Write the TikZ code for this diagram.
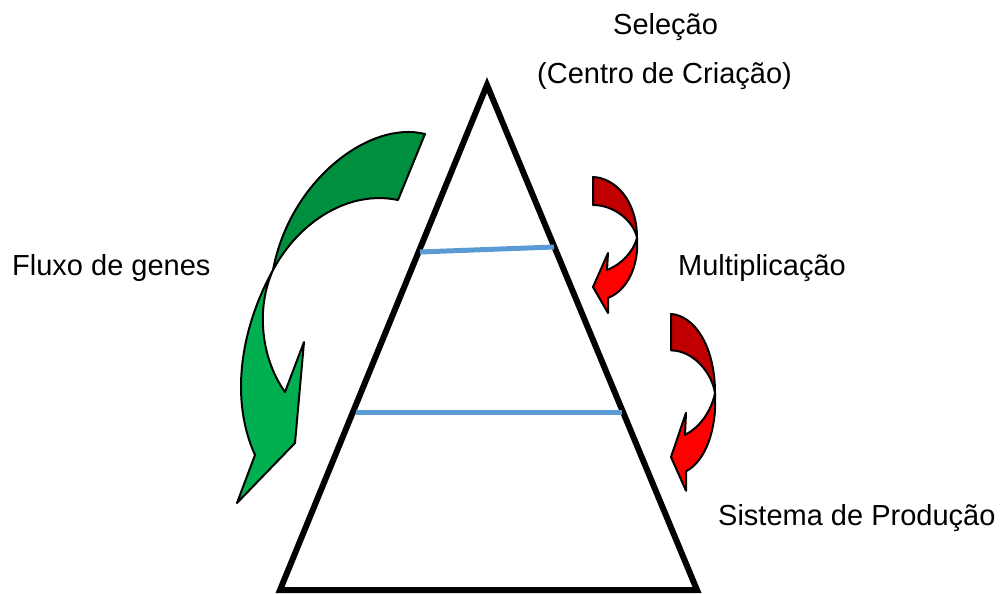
\documentclass[tikz,border=0pt]{standalone}
\usepackage{fontspec}
\setmainfont{Liberation Sans}
\usepackage{tikz}
\usetikzlibrary{positioning}

\definecolor{DarkGreen}{HTML}{008F3F}
\definecolor{LightGreen}{HTML}{00B050}
\definecolor{DarkRed}{HTML}{C00000}
\definecolor{LightRed}{HTML}{FF0000}
\definecolor{LevelBlue}{HTML}{5B9BD5}

\begin{document}
\begin{tikzpicture}[x=1pt, y=-1pt]
			\tikzstyle{Label}	= [anchor=base west, inner sep=0pt, font=\fontsize{29}{35}\selectfont]
			\tikzstyle{Pyramid}	= [line width=6pt, black, line join=miter]
			\tikzstyle{Level}	= [line width=5pt, LevelBlue]
			\tikzstyle{Shape}	= [draw=black, line width=2pt, line join=round]

			\useasboundingbox (0,0) rectangle (1001,594);

			% pyramid
			\coordinate (top) at (487,85);
			\coordinate (bl) at (280,590);
			\coordinate (br) at (697,590);
			\draw [Pyramid] (top) -- (bl) -- (br) -- cycle;

			% levels
			\coordinate (u1) at (420,252);
			\coordinate (u2) at (554,247);
			\coordinate (l1) at (356,412);
			\coordinate (l2) at (622,412);
			\draw [Level] (u1) to (u2);
			\draw [Level] (l1) to (l2);

			% gene flow arrow
			\draw [Shape, fill=DarkGreen] (425,134) .. controls (370,120) and (290,180) .. (273,270)
				.. controls (300,220) and (350,190) .. (398,200) -- cycle;
			\draw [Shape, fill=LightGreen] (273,270) .. controls (240,330) and (230,400) .. (255,455)
				-- (237,503) -- (295,443) -- (304,342) -- (285,392)
				.. controls (262,360) and (255,310) .. (273,270) -- cycle;

			% multiplication arrows
			\foreach \dx/\dy/\s in {0/0/1, 78/137/1.3}
			{
				\begin{scope}[shift={(593+\dx,177+\dy)}, yscale=\s, shift={(-593,-177)}]
					\draw [Shape, fill=DarkRed] (593,177) .. controls (615,178) and (637,200) .. (637,238)
						.. controls (634,222) and (615,205) .. (593,205) -- cycle;
					\draw [Shape, fill=LightRed] (637,238) .. controls (639,265) and (628,290) .. (608,298)
						-- (608,313) -- (593,287) -- (608,253) -- (607,270)
						.. controls (622,264) and (633,252) .. (637,238) -- cycle;
				\end{scope}
			}

			% labels
			\node (sel) at (613,35) [Label] {Seleção};
			\node (cc) at (537,83) [Label] {(Centro de Criação)};
			\node (flux) at (12,275) [Label] {Fluxo de genes};
			\node (mult) at (678,275) [Label] {Multiplicação};
			\node (sist) at (718,525) [Label] {Sistema de Produção};
		\end{tikzpicture}
\end{document}
